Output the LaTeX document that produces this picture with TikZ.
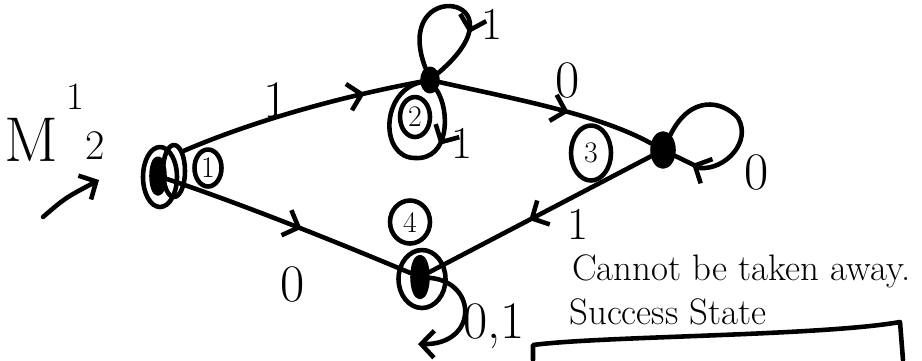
\documentclass[tikz,border=0pt]{standalone}
\usetikzlibrary{arrows.meta,shapes.geometric,decorations.markings}
\newcommand{\Pen}{2.6pt}
\newcommand{\LabelFont}{\fontsize{30}{30}\selectfont}
\newcommand{\TagFont}{\fontsize{17}{17}\selectfont}
\newcommand{\NoteFont}{\fontsize{21}{21}\selectfont}

\begin{document}
\begin{tikzpicture}[
    x=0.02cm, y=-0.02cm, line width=\Pen, line cap=round, line join=round,
    blob/.style={ellipse, fill=black, draw=black, inner sep=0pt},
    ring/.style={ellipse, draw=black, line width=\Pen, inner sep=0pt},
    tag/.style={ring, font=\TagFont},
    lbl/.style={font=\LabelFont, inner sep=0pt},
    wire/.style={draw=black, line width=\Pen},
    barb/.style={-{Straight Barb[length=2.6mm,width=5.4mm,line width=\Pen]}},
    midarrow/.style={postaction={decorate}, decoration={markings,
        mark=at position #1 with {\arrow{Straight Barb[length=2.6mm,width=5.4mm,line width=\Pen]}}}},
  ]
\useasboundingbox (0,0) rectangle (922,360);

% --- Machine name and entry arrow ---------------------------------------------
\node[font=\fontsize{36}{36}\selectfont, inner sep=0pt] (mname) at (31,140) {M};
\node[font=\fontsize{22}{22}\selectfont, inner sep=0pt] (msup) at (75,97) {1};
\node[font=\fontsize{24}{24}\selectfont, inner sep=0pt] (msub) at (95,146) {2};
\coordinate (entry) at (43,217);
\coordinate (entrytip) at (99,180);
\draw[wire, barb] (entry) .. controls (65,198) .. (entrytip);

% --- States -------------------------------------------------------------------
\node[blob, minimum width=0.26cm, minimum height=0.7cm] (start) at (158,176) {};
\node[ring, minimum width=0.68cm, minimum height=1.2cm] (startout) at (160,177) {};
\node[ring, minimum width=0.44cm, minimum height=1.04cm] (startin) at (174,171) {};
\node[tag, minimum width=0.54cm, minimum height=0.74cm] (tagone) at (208,168) {1};

\node[blob, minimum width=0.3cm, minimum height=0.45cm] (top) at (430,80) {};
\node[tag, minimum width=0.6cm, minimum height=0.8cm] (tagtwo) at (415,117) {2};

\node[blob, minimum width=0.42cm, minimum height=0.66cm] (right) at (663,150) {};
\node[tag, minimum width=0.8cm, minimum height=1.1cm] (tagthree) at (591,153) {3};

\node[ring, minimum width=0.94cm, minimum height=1.16cm] (sink) at (422,279) {};
\node[blob, minimum width=0.3cm, minimum height=0.8cm] (sinkdot) at (420,277) {};
\node[tag, minimum width=0.8cm, minimum height=0.86cm] (tagfour) at (410,222) {4};

% --- Transitions --------------------------------------------------------------
\draw[wire, midarrow=0.77] (startin.north east) .. controls (260,118) and (350,95) .. (top);
\node[lbl] (lone) at (276,100) {1};
\draw[wire, midarrow=0.55] (start) .. controls (230,200) and (320,235) .. (sinkdot);
\node[lbl] (lzero) at (293,284) {0};
\draw[wire, midarrow=0.6] (top) .. controls (520,100) and (600,115) .. (right);
\node[lbl] (ltopright) at (568,80) {0};
\draw[wire, midarrow=0.55] (right) -- (sinkdot);
\node[lbl, font=\fontsize{26}{26}\selectfont] (lrightsink) at (578,224) {1};

% --- Self loops ---------------------------------------------------------------
\draw[wire, midarrow=0.7] (top) .. controls (390,-25) and (530,-5) .. (top);
\node[lbl, font=\fontsize{26}{26}\selectfont] (lupper) at (492,24) {1};
\draw[wire, midarrow=0.3] (top) .. controls (450,110) and (450,160) .. (415,158)
  .. controls (380,158) and (380,92) .. (top);
\node[lbl, font=\fontsize{26}{26}\selectfont] (llower) at (462,143) {1};
\draw[wire, midarrow=0.9] (right) .. controls (690,95) and (722,100) .. (738,118)
  .. controls (752,142) and (725,170) .. (700,168) -- (right);
\node[lbl] (lright) at (757,172) {0};
\coordinate (sinkend) at (418,344);
\draw[wire, barb] (sinkdot) .. controls (478,282) and (478,345) .. (sinkend);
\node[lbl] (lsink) at (494,326) {0,1};

% --- Note and box -------------------------------------------------------------
\node[font=\NoteFont, inner sep=0pt, anchor=west] (noteone) at (570,271) {Cannot be taken away.};
\node[font=\NoteFont, inner sep=0pt, anchor=west] (notetwo) at (567,312) {Success State};
\draw[wire] (533,360) -- (533,345) .. controls (600,336) and (820,336) .. (900,322) -- (903,360);

\end{tikzpicture}
\end{document}
